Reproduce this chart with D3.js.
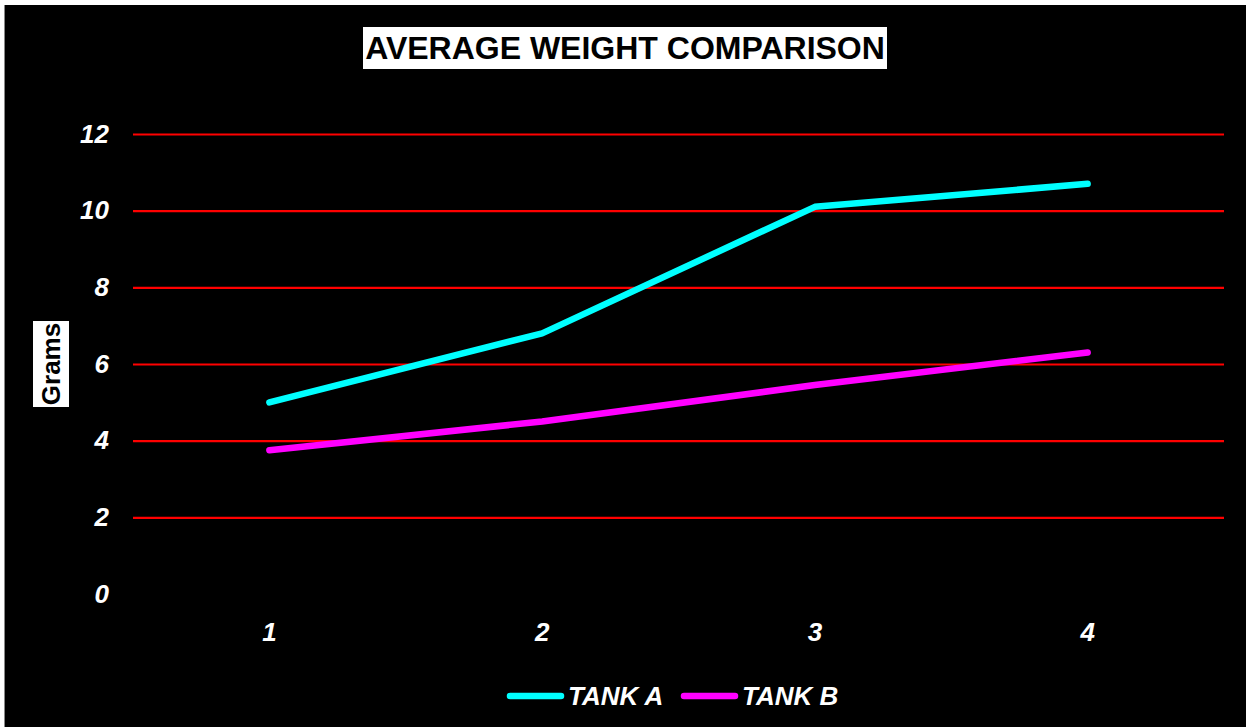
<!DOCTYPE html>
<html>
<head>
<meta charset="utf-8">
<script src="https://cdn.jsdelivr.net/npm/d3@7"></script>
<style>
  html, body { margin: 0; padding: 0; background: #fff; }
  svg { display: block; font-family: Arial, "Liberation Sans", sans-serif; }
</style>
</head>
<body>
<div id="chart"></div>
<script>
// data
const categories = ['1', '2', '3', '4'];
const tankA = [5.0, 6.8, 10.1, 10.7];
const tankB = [3.75, 4.5, 5.45, 6.3];
const yTicks = [0, 2, 4, 6, 8, 10, 12];
const seriesNames = ['TANK A', 'TANK B'];
const seriesColors = ['#00ffff', '#ff00ff'];

const FONT = 'Arial, "Liberation Sans", sans-serif';
const width = 1246, height = 727;
const margin = { top: 134, right: 22, bottom: 133, left: 133 };
const plotW = width - margin.left - margin.right;
const plotH = height - margin.top - margin.bottom;

const svg = d3.select('#chart').append('svg')
    .attr('width', width)
    .attr('height', height);

// black chart area with thin grey edge
svg.append('rect')
    .attr('x', 4).attr('y', 5)
    .attr('width', width - 4).attr('height', height - 5)
    .attr('fill', '#000');
svg.append('line')
    .attr('x1', 4.5).attr('x2', 4.5).attr('y1', 5).attr('y2', height)
    .attr('stroke', '#888').attr('stroke-width', 1);

const plot = svg.append('g')
    .attr('transform', `translate(${margin.left},${margin.top})`);

const x = d3.scaleBand().domain(categories).range([0, plotW]);
const y = d3.scaleLinear().domain([0, 12]).range([plotH, 0]);

// gridlines (no line at 0)
plot.append('g')
    .call(d3.axisLeft(y).tickValues(yTicks.filter(d => d > 0)).tickSize(-plotW).tickFormat(''))
    .call(g => g.select('.domain').remove())
    .call(g => g.selectAll('line').attr('stroke', '#ff0000').attr('stroke-width', 2.2));

// y tick labels
plot.append('g')
    .call(d3.axisLeft(y).tickValues(yTicks).tickSize(0).tickPadding(24))
    .attr('font-family', FONT)
    .attr('font-size', 26)
    .call(g => g.select('.domain').remove())
    .call(g => g.selectAll('text')
        .attr('fill', '#fff')
        .attr('font-weight', 'bold')
        .attr('font-style', 'italic'));

// x tick labels
plot.append('g')
    .attr('transform', `translate(0,${plotH})`)
    .call(d3.axisBottom(x).tickSize(0).tickPadding(29))
    .attr('font-family', FONT)
    .attr('font-size', 26)
    .call(g => g.select('.domain').remove())
    .call(g => g.selectAll('text')
        .attr('fill', '#fff')
        .attr('font-weight', 'bold')
        .attr('font-style', 'italic'));

// lines
const line = d3.line()
    .x((d, i) => x(categories[i]) + x.bandwidth() / 2)
    .y(d => y(d));

[tankA, tankB].forEach((vals, i) => {
    plot.append('path')
        .datum(vals)
        .attr('fill', 'none')
        .attr('stroke', seriesColors[i])
        .attr('stroke-width', 6.5)
        .attr('stroke-linecap', 'round')
        .attr('stroke-linejoin', 'round')
        .attr('d', line);
});

// title
const title = svg.append('g');
title.append('rect')
    .attr('x', 363).attr('y', 27)
    .attr('width', 524).attr('height', 42)
    .attr('fill', '#fff');
title.append('text')
    .attr('x', 625).attr('y', 59)
    .attr('text-anchor', 'middle')
    .attr('font-size', 32)
    .attr('font-weight', 'bold')
    .attr('fill', '#000')
    .text('AVERAGE WEIGHT COMPARISON');

// y axis label
const yl = svg.append('g').attr('transform', 'translate(51,364) rotate(-90)');
yl.append('rect')
    .attr('x', -43).attr('y', -18)
    .attr('width', 86).attr('height', 36)
    .attr('fill', '#fff');
yl.append('text')
    .attr('x', 0).attr('y', 9)
    .attr('text-anchor', 'middle')
    .attr('font-size', 26)
    .attr('font-weight', 'bold')
    .attr('fill', '#000')
    .text('Grams');

// legend
const legendX = [508, 682];
seriesNames.forEach((name, i) => {
    const g = svg.append('g').attr('transform', `translate(${legendX[i]},696)`);
    g.append('line')
        .attr('x1', 2).attr('x2', 53)
        .attr('stroke', seriesColors[i])
        .attr('stroke-width', 6.5)
        .attr('stroke-linecap', 'round');
    g.append('text')
        .attr('x', 60).attr('y', 9)
        .attr('font-size', 26)
        .attr('font-weight', 'bold')
        .attr('font-style', 'italic')
        .attr('fill', '#fff')
        .text(name);
});
</script>
</body>
</html>
